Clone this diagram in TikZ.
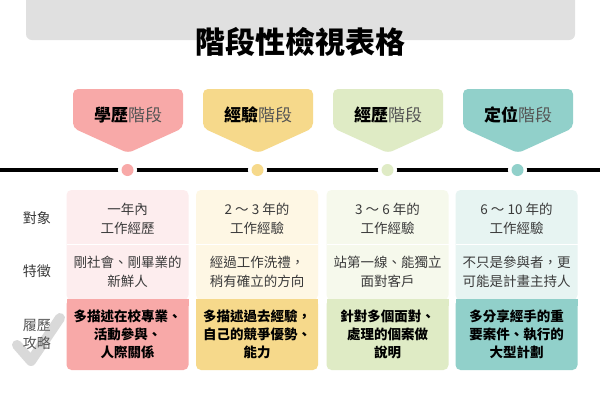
\documentclass[tikz,border=0pt]{standalone}
\usepackage{fontspec}
\setmainfont{Noto Sans CJK TC}
\definecolor{bargray}{HTML}{E0E0E0}
\definecolor{pinkT}{HTML}{F8A9A8}
\definecolor{yellowT}{HTML}{F6D98B}
\definecolor{greenT}{HTML}{DFEBC5}
\definecolor{tealT}{HTML}{91D0CA}
\definecolor{pinkL}{HTML}{FDEDEE}
\definecolor{yellowL}{HTML}{FEF7E4}
\definecolor{greenL}{HTML}{F6F9EC}
\definecolor{tealL}{HTML}{E7F4F2}
\definecolor{txtgray}{HTML}{3A3A3A}
\definecolor{reggray}{HTML}{555555}
\definecolor{checkgray}{HTML}{D9D9D9}
\tikzset{
  tagtext/.style={font=\fontsize{17}{20}\selectfont, inner sep=0pt},
  dot/.style={circle, inner sep=0pt, minimum size=12pt, preaction={fill=white, draw=white, line width=7pt}},
  celltext/.style={align=center, font=\fontsize{13.5}{18.5}\selectfont, text=txtgray, inner sep=0pt},
  strongtext/.style={align=center, font=\bfseries\fontsize{13.5}{18}\selectfont, text=black, inner sep=0pt},
  rowlabel/.style={align=center, font=\fontsize{14}{18}\selectfont, text=reggray, inner sep=0pt},
}
\newcommand\stagetag[5]{%
  \fill[#3, rounded corners=5pt] (#2-55,89) -- (#2+55,89) -- (#2+55,128) -- (#2,153) -- (#2-55,128) -- cycle;
  \node[tagtext] (#1) at (#2,115) {\textbf{#4}\textcolor{reggray}{#5}};
}
\newcommand\stagecol[3]{%
  \fill[#2, rounded corners=5pt] (#1-61,190) rectangle (#1+61,300);
  \fill[#3, rounded corners=5pt] (#1-61,299) rectangle (#1+61,370);
  \fill[#3] (#1-61,299) rectangle (#1+61,306);
  \draw[white, line width=1.2pt] (#1-61,244.5) -- (#1+61,244.5);
}
\begin{document}
\begin{tikzpicture}[x=1pt,y=-1pt]
\useasboundingbox (0,0) rectangle (600,400);
\fill[white] (0,0) rectangle (600,400);
% header bar and title
\fill[bargray, rounded corners=6pt] (26,-10) rectangle (575,40);
\node[font=\bfseries\fontsize{30}{32}\selectfont, inner sep=0pt] (title) at (300,42) {階段性檢視表格};
% stage tags
\stagetag{t1}{128}{pinkT}{學歷}{階段}
\stagetag{t2}{258}{yellowT}{經驗}{階段}
\stagetag{t3}{388}{greenT}{經歷}{階段}
\stagetag{t4}{518}{tealT}{定位}{階段}
% timeline
\coordinate (tl) at (0,170);
\coordinate (tr) at (600,170);
\draw[line width=4.5pt] (tl) -- (tr);
\node[dot, fill=pinkT] (d1) at (127.5,170) {};
\node[dot, fill=yellowT] (d2) at (257.5,170) {};
\node[dot, fill=greenT] (d3) at (387.5,170) {};
\node[dot, fill=tealT] (d4) at (517.5,170) {};
% table columns
\stagecol{127.5}{pinkL}{pinkT}
\stagecol{257}{yellowL}{yellowT}
\stagecol{387.5}{greenL}{greenT}
\stagecol{516.5}{tealL}{tealT}
% row labels
\node[rowlabel, text=txtgray] (l1) at (37,218) {對象};
\node[rowlabel, text=txtgray] (l2) at (37,271) {特徵};
\draw[checkgray, line width=10pt, line cap=round, line join=round] (17,345) -- (31,361) -- (60,318);
\node[rowlabel] (l3) at (37,334) {履歷\\攻略};
% row 1
\node[celltext] (a1) at (127.5,219) {一年內\\工作經歷};
\node[celltext] (a2) at (257,219) {2 ～ 3 年的\\工作經驗};
\node[celltext] (a3) at (387.5,219) {3 ～ 6 年的\\工作經驗};
\node[celltext] (a4) at (516.5,219) {6 ～ 10 年的\\工作經驗};
% row 2
\node[celltext] (b1) at (127.5,272) {剛社會、剛畢業的\\新鮮人};
\node[celltext] (b2) at (257,272) {經過工作洗禮，\\稍有確立的方向};
\node[celltext] (b3) at (387.5,272) {站第一線、能獨立\\面對客戶};
\node[celltext] (b4) at (516.5,272) {不只是參與者，更\\可能是計畫主持人};
% row 3
\node[strongtext] (c1) at (127.5,334) {多描述在校專業、\\活動參與、\\人際關係};
\node[strongtext] (c2) at (257,334) {多描述過去經驗，\\自己的競爭優勢、\\能力};
\node[strongtext] (c3) at (387.5,334) {針對多個面對、\\處理的個案做\\說明};
\node[strongtext] (c4) at (516.5,334) {多分享經手的重\\要案件、執行的\\大型計劃};
\end{tikzpicture}
\end{document}
